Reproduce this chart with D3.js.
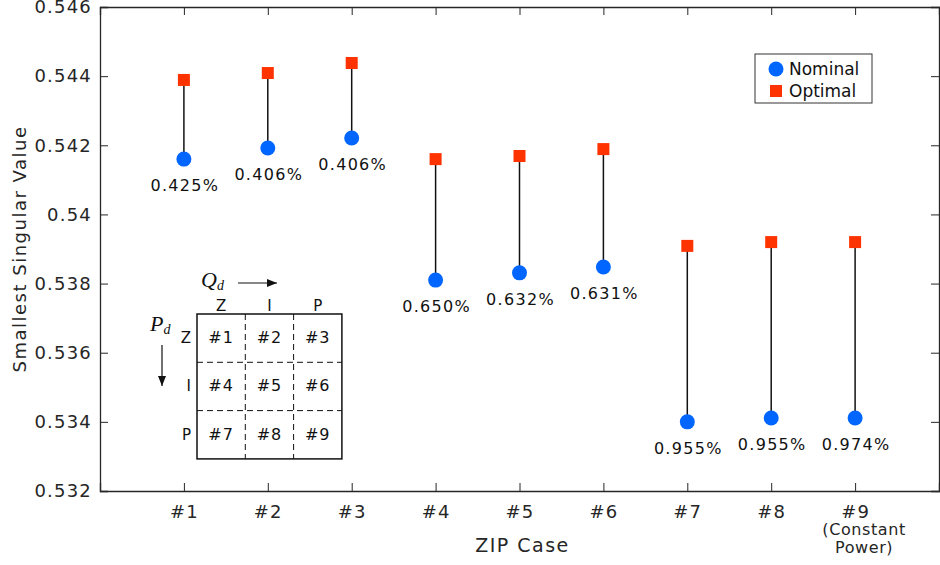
<!DOCTYPE html>
<html>
<head>
<meta charset="utf-8">
<script src="https://cdn.jsdelivr.net/npm/d3@7"></script>
<style>
  body { margin: 0; background: #fff; }
  text { font-family: 'DejaVu Sans', sans-serif; }
</style>
</head>
<body>
<script>
// ZIP cases and their values
var cases = ['#1', '#2', '#3', '#4', '#5', '#6', '#7', '#8', '#9']
var nominal = [0.5416, 0.54192, 0.54221, 0.5381, 0.53831, 0.53848, 0.5340, 0.53411, 0.53411]
var optimal = [0.54389, 0.54409, 0.54438, 0.5416, 0.54169, 0.54189, 0.53909, 0.5392, 0.5392]
var gains = ['0.425%', '0.406%', '0.406%', '0.650%', '0.632%', '0.631%', '0.955%', '0.955%', '0.974%']
var yTicks = [0.532, 0.534, 0.536, 0.538, 0.54, 0.542, 0.544, 0.546]

// inset table of ZIP combinations
var zipLetters = ['Z', 'I', 'P']

var width = 940, height = 565
var margin = { left: 100, right: 1, top: 7, bottom: 74 }

var svg = d3.select('body').append('svg')
    .attr('width', width)
    .attr('height', height)

var x = d3.scaleLinear().domain([0, 10]).range([margin.left, width - margin.right])
var y = d3.scaleLinear().domain([0.532, 0.546]).range([height - margin.bottom, margin.top])

var tickColor = '#262626'

// axes box
var yAxis = d3.axisLeft(y).tickValues(yTicks).tickSize(-8).tickPadding(8)
    .tickFormat(function(d) { return d == 0.54 ? '0.54' : d3.format('.3f')(d) })
var yAxisRight = d3.axisRight(y).tickValues(yTicks).tickSize(-8).tickFormat('')
var xAxis = d3.axisBottom(x).tickValues(d3.range(1, 10)).tickSize(-8).tickPadding(14)
    .tickFormat(function(d) { return cases[d - 1] })
var xAxisTop = d3.axisTop(x).tickValues(d3.range(1, 10)).tickSize(-8).tickFormat('')

function styleAxis(g) {
    g.select('.domain').attr('stroke', tickColor).attr('stroke-width', 1.3)
    g.selectAll('.tick line').attr('stroke', tickColor)
    g.selectAll('.tick text').attr('fill', tickColor).style('font-size', '18px').style('letter-spacing', '1.2px')
}

svg.append('g').attr('transform', 'translate(' + margin.left + ',0)').call(yAxis).call(styleAxis)
svg.append('g').attr('transform', 'translate(' + (width - margin.right) + ',0)').call(yAxisRight).call(styleAxis)
svg.append('g').attr('transform', 'translate(0,' + (height - margin.bottom) + ')').call(xAxis).call(styleAxis)
svg.append('g').attr('transform', 'translate(0,' + margin.top + ')').call(xAxisTop).call(styleAxis)

// axis titles
svg.append('text')
    .attr('x', x(5) + 3)
    .attr('y', 552)
    .attr('text-anchor', 'middle')
    .attr('fill', tickColor)
    .style('font-size', '19px')
    .style('letter-spacing', '1.5px')
    .text('ZIP Case')

svg.append('text')
    .attr('transform', 'translate(26,' + y(0.539) + ') rotate(-90)')
    .attr('text-anchor', 'middle')
    .attr('fill', tickColor)
    .style('font-size', '18px')
    .style('letter-spacing', '1.5px')
    .text('Smallest Singular Value')

// "(Constant Power)" under #9
svg.append('text')
    .attr('x', x(9) + 9)
    .attr('y', 535)
    .attr('text-anchor', 'middle')
    .attr('fill', tickColor)
    .style('font-size', '16px')
    .style('letter-spacing', '0.6px')
    .selectAll('tspan')
    .data(['(Constant', 'Power)'])
    .enter().append('tspan')
        .attr('x', x(9) + 9)
        .attr('dy', function(d, i) { return i == 0 ? 0 : 18 })
        .text(function(d) { return d })

// stems
cases.forEach(function(c, i) {
    svg.append('line')
        .attr('x1', x(i + 1)).attr('x2', x(i + 1))
        .attr('y1', y(nominal[i])).attr('y2', y(optimal[i]))
        .attr('stroke', '#111')
        .attr('stroke-width', 1.5)
})

// markers
svg.selectAll('.opt')
    .data(optimal)
    .enter().append('rect')
        .attr('x', function(d, i) { return x(i + 1) - 6 })
        .attr('y', function(d) { return y(d) - 6 })
        .attr('width', 12)
        .attr('height', 12)
        .attr('fill', '#ff3300')

svg.selectAll('.nom')
    .data(nominal)
    .enter().append('circle')
        .attr('cx', function(d, i) { return x(i + 1) })
        .attr('cy', function(d) { return y(d) })
        .attr('r', 7.5)
        .attr('fill', '#0066ff')

svg.selectAll('.gain')
    .data(gains)
    .enter().append('text')
        .attr('x', function(d, i) { return x(i + 1) + 1 })
        .attr('y', function(d, i) { return y(nominal[i]) + 32 })
        .attr('text-anchor', 'middle')
        .attr('fill', '#111')
        .style('font-size', '16px')
        .style('letter-spacing', '1.3px')
        .text(function(d) { return d })

// legend
var legend = svg.append('g').attr('transform', 'translate(755,54)')
legend.append('rect')
    .attr('width', 117).attr('height', 49)
    .attr('fill', '#fff').attr('stroke', '#333').attr('stroke-width', 1)
legend.append('circle').attr('cx', 21).attr('cy', 15).attr('r', 7.5).attr('fill', '#0066ff')
legend.append('rect').attr('x', 15).attr('y', 31).attr('width', 12).attr('height', 12).attr('fill', '#ff3300')
legend.append('text').attr('x', 34).attr('y', 21).attr('fill', '#111').style('font-size', '17px').text('Nominal')
legend.append('text').attr('x', 34).attr('y', 43).attr('fill', '#111').style('font-size', '17px').text('Optimal')

// inset table
var tableX = 197, tableY = 314, cell = 48.3
var table = svg.append('g').attr('transform', 'translate(' + tableX + ',' + tableY + ')')
table.append('rect')
    .attr('width', cell * 3).attr('height', cell * 3)
    .attr('fill', 'none').attr('stroke', '#111').attr('stroke-width', 1.5)
for (var k = 1; k < 3; k++) {
    table.append('line').attr('x1', cell * k).attr('x2', cell * k).attr('y1', 0).attr('y2', cell * 3)
        .attr('stroke', '#111').attr('stroke-dasharray', '6,4')
    table.append('line').attr('y1', cell * k).attr('y2', cell * k).attr('x1', 0).attr('x2', cell * 3)
        .attr('stroke', '#111').attr('stroke-dasharray', '6,4')
}
zipLetters.forEach(function(letter, r) {
    table.append('text')
        .attr('x', cell * r + cell / 2).attr('y', -3)
        .attr('text-anchor', 'middle').attr('fill', '#111').style('font-size', '15px')
        .text(letter)
    table.append('text')
        .attr('x', -6).attr('y', cell * r + cell / 2 + 5)
        .attr('text-anchor', 'end').attr('fill', '#111').style('font-size', '15px')
        .text(letter)
    zipLetters.forEach(function(l2, c) {
        table.append('text')
            .attr('x', cell * c + cell / 2).attr('y', cell * r + cell / 2 + 5)
            .attr('text-anchor', 'middle').attr('fill', '#111').style('font-size', '16px')
            .style('letter-spacing', '1px')
            .text(cases[r * 3 + c])
    })
})

// Q_d and P_d labels with arrows
svg.append('defs').append('marker')
    .attr('id', 'arrow').attr('viewBox', '0 0 10 10').attr('refX', 10).attr('refY', 5)
    .attr('markerWidth', 10).attr('markerHeight', 10).attr('markerUnits', 'userSpaceOnUse')
    .attr('orient', 'auto')
    .append('path').attr('d', 'M0,1 L10,5 L0,9 Z').attr('fill', '#111')

function mathLabel(xp, yp, main, sub) {
    var t = svg.append('text').attr('x', xp).attr('y', yp).attr('fill', '#111')
        .style('font-family', "'Liberation Serif', serif").style('font-style', 'italic')
    t.append('tspan').style('font-size', '22px').text(main)
    t.append('tspan').attr('dy', 3).style('font-size', '14px').text(sub)
}
mathLabel(201, 287, 'Q', 'd')
mathLabel(150, 331, 'P', 'd')

svg.append('line').attr('x1', 238).attr('x2', 277).attr('y1', 283).attr('y2', 283)
    .attr('stroke', '#111').attr('stroke-width', 1.2).attr('marker-end', 'url(#arrow)')
svg.append('line').attr('x1', 162).attr('x2', 162).attr('y1', 345).attr('y2', 386)
    .attr('stroke', '#111').attr('stroke-width', 1.2).attr('marker-end', 'url(#arrow)')
</script>
</body>
</html>
